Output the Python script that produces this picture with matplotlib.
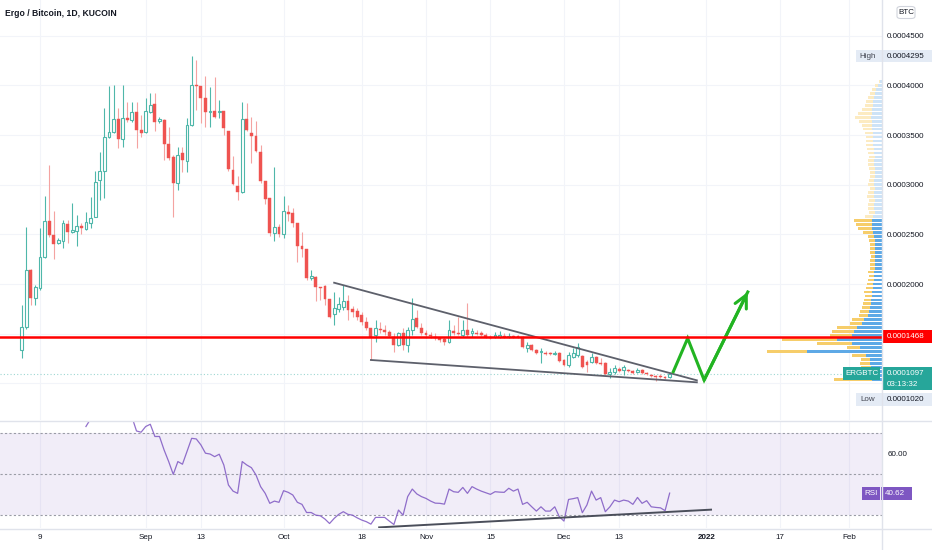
import numpy as np
import pandas as pd
import matplotlib
matplotlib.use("Agg")
import matplotlib.pyplot as plt
import matplotlib.dates as mdates
from matplotlib import font_manager
from matplotlib.patches import Rectangle, FancyBboxPatch
from matplotlib.lines import Line2D
from matplotlib.ticker import FuncFormatter

names = {f.name for f in font_manager.fontManager.ttflist}
if "Liberation Sans Narrow" in names:
    FONT, FS = "Liberation Sans Narrow", 6.9
else:
    FONT, FS = "Liberation Sans", 5.8
plt.rcParams["font.family"] = [FONT, "DejaVu Sans"]

# ---------------- data ----------------
TITLE = "Ergo / Bitcoin, 1D, KUCOIN"
first_day = "2021-08-05"
# daily OHLC in micro-BTC (1e-6 BTC)
opens = [133.6,156.7,214.1,185.9,196.0,227.2,263.5,249.4,241.3,243.3,
         260.4,252.4,253.4,258.4,255.4,261.4,267.5,304.7,313.8,348.0,
         353.1,366.2,346.0,367.2,365.2,373.2,355.1,353.1,373.2,381.3,
         364.2,365.2,341.0,327.9,301.7,331.9,323.9,360.1,400.4,399.4,
         387.3,373.2,374.2,373.2,374.2,354.1,314.8,298.7,292.7,366.2,
         352.1,349.0,332.9,303.7,286.6,251.4,257.4,250.4,272.5,271.5,
         261.4,238.3,235.3,206.0,207.1,197.0,198.0,184.9,169.8,174.8,
         176.8,182.9,174.8,172.8,168.8,161.7,155.7,148.7,154.7,153.7,
         151.7,146.6,138.6,150.7,138.6,153.7,165.8,155.7,150.7,148.7,
         146.6,145.6,144.6,141.6,152.7,150.7,148.7,153.7,150.7,150.7,
         150.7,148.7,146.6,146.6,146.6,147.6,146.6,147.6,147.6,146.6,
         135.6,138.6,133.6,131.5,130.5,130.5,129.5,130.5,123.5,118.5,
         126.5,128.5,127.5,121.5,121.5,126.5,120.5,120.5,109.4,111.4,
         114.4,113.4,113.4,112.4,111.4,113.4,110.4,108.4,107.4,107.4,
         106.4,106.4]
highs = [178.9,257.4,215.0,199.0,256.4,288.6,319.8,273.5,246.0,264.5,
         264.5,281.6,269.5,261.4,272.5,287.6,313.8,332.9,377.2,399.4,
         400.4,377.2,400.4,383.3,383.3,383.3,370.2,387.3,392.3,392.3,
         368.0,366.0,358.1,329.9,338.0,338.0,367.2,429.5,426.0,399.8,
         409.5,398.4,408.5,385.3,374.5,354.5,328.9,308.8,383.3,382.3,
         368.2,364.2,340.0,304.0,287.0,317.8,260.4,288.6,279.6,276.5,
         261.5,252.4,235.5,214.1,208.1,197.2,199.0,185.0,191.9,187.0,
         199.0,188.9,177.9,175.8,171.8,166.8,156.0,163.8,161.7,158.7,
         153.7,150.7,151.7,155.7,156.7,185.9,173.8,160.7,153.7,151.7,
         150.7,146.6,146.6,163.8,158.7,166.8,163.8,180.9,155.7,153.7,
         152.7,150.7,148.7,151.7,152.7,150.7,150.7,148.7,148.7,147.6,
         141.6,139.6,134.6,135.6,132.5,131.5,132.5,131.5,124.5,131.5,
         135.6,140.6,128.5,123.5,130.5,127.5,125.5,121.5,115.4,118.5,
         116.4,118.5,114.4,113.4,115.4,114.4,111.4,109.4,108.4,109.4,
         107.4,111.4]
lows = [125.5,155.0,178.9,178.9,194.0,226.0,247.3,225.2,240.3,236.3,
        241.3,251.5,238.3,250.4,254.4,256.4,267.0,284.6,286.6,347.0,
        352.0,337.0,338.0,363.1,363.1,337.0,348.0,352.0,372.0,354.1,
        362.1,324.9,324.9,267.5,294.7,312.8,312.8,359.0,375.2,362.1,
        358.1,358.1,367.2,367.2,350.1,313.8,299.7,284.6,292.0,354.5,
        321.9,333.0,301.7,280.6,248.3,243.3,247.3,246.3,263.5,257.4,
        222.2,227.2,204.0,204.0,182.9,183.9,178.9,166.0,158.7,171.8,
        173.8,163.8,166.8,163.8,158.7,153.7,123.5,141.6,150.7,148.7,
        146.6,131.5,137.6,133.6,131.5,148.7,155.7,148.7,145.6,145.6,
        143.6,141.6,138.6,140.6,148.7,148.7,146.6,146.6,146.6,148.7,
        147.6,145.6,144.6,145.6,145.6,145.6,145.6,145.6,145.6,135.6,
        131.5,132.5,129.5,120.5,128.5,128.5,128.5,121.5,117.4,116.4,
        125.5,126.5,115.8,111.4,120.5,119.5,118.5,108.4,105.4,109.4,
        111.4,108.4,111.4,109.4,110.4,109.4,108.4,106.4,102.0,105.4,
        104.3,105.4]
closes = [156.7,214.1,185.9,197.0,227.2,263.5,249.4,240.3,244.3,261.4,
          252.4,254.4,258.4,256.4,262.4,266.5,302.7,313.8,348.0,353.1,
          366.2,346.0,367.2,365.2,373.2,355.1,352.1,374.2,380.3,363.1,
          366.2,341.0,326.9,301.7,329.9,324.9,360.1,400.4,399.4,387.3,
          373.2,374.2,368.2,374.2,357.1,315.8,300.7,292.7,366.2,355.1,
          349.0,333.9,303.7,285.6,251.4,257.4,250.4,273.5,270.5,261.4,
          238.3,235.3,206.0,208.1,197.0,196.0,184.9,166.8,175.8,179.9,
          182.9,173.8,171.8,166.8,161.7,155.7,146.6,155.7,153.7,151.7,
          147.6,138.6,150.7,138.6,153.7,164.8,156.7,150.7,148.7,147.6,
          145.6,143.6,141.6,153.7,150.7,149.7,153.7,148.7,152.7,149.7,
          148.7,146.6,145.6,148.7,148.7,146.6,147.6,146.6,146.6,136.6,
          138.6,133.6,130.5,132.5,129.5,129.5,130.5,122.5,118.5,128.5,
          130.5,136.6,116.4,118.5,126.5,120.5,119.5,109.4,111.4,115.4,
          112.4,116.4,112.4,110.4,113.4,110.4,109.4,107.4,106.4,106.4,
          105.4,109.7]

rsi_first_day = "2021-08-19"
rsi = [73.3,77.0,80.0,81.0,79.0,81.0,80.0,81.0,78.0,79.0,
       78.0,71.1,70.5,73.3,74.4,68.4,68.4,61.8,56.1,49.8,
       56.1,54.8,61.1,67.5,67.2,64.3,60.2,59.8,58.5,59.7,
       54.4,44.6,41.6,40.5,56.1,54.4,53.1,49.5,43.8,40.5,
       35.6,36.7,36.1,41.8,41.0,39.7,36.1,35.1,31.1,31.1,
       29.8,29.5,27.9,25.7,28.2,30.2,31.5,30.2,29.8,28.5,
       27.4,26.6,25.4,28.7,28.7,28.7,26.9,25.2,32.3,29.8,
       38.9,42.6,40.2,38.9,38.0,36.7,35.7,35.6,35.2,42.6,
       41.3,41.0,43.4,40.5,43.8,42.6,41.6,40.8,40.0,41.3,
       41.1,41.0,43.0,41.6,42.6,35.1,36.1,33.9,31.8,33.9,
       31.8,31.8,33.9,29.0,26.9,37.5,37.9,38.4,31.0,34.8,
       41.6,37.2,38.4,31.5,33.9,37.2,36.4,37.2,36.7,35.1,
       38.5,35.6,36.9,33.9,33.6,33.4,32.0,40.62]
rsi_levels = [30, 50, 70]
rsi_ticks = [60]

resistance = 146.8      # 0.0001468
last_price = 109.7      # 0.0001097
high_value = 429.5      # 0.0004295
low_value = 102.0       # 0.0001020
countdown = "03:13:32"
symbol = "ERGBTC"
price_ticks = [100, 150, 200, 250, 300, 350, 400, 450]
hidden_price_ticks = [100, 150]

time_ticks = ["2021-08-09", "2021-09-01", "2021-09-13", "2021-10-01", "2021-10-18",
              "2021-11-01", "2021-11-15", "2021-12-01", "2021-12-13", "2022-01-01",
              "2022-01-17", "2022-02-01"]
time_labels = ["9", "Sep", "13", "Oct", "18", "Nov", "15", "Dec", "13", "2022", "17", "Feb"]

upper_line_t = ["2021-10-12 00:00", "2021-12-29 22:00"]
upper_line_p = [201.3, 103.0]
lower_line_t = ["2021-10-20 00:00", "2021-12-29 22:00"]
lower_line_p = [123.5, 101.0]
arrow_t = ["2021-12-24 19:00", "2021-12-27 22:00", "2021-12-31 12:00", "2022-01-10 00:00"]
arrow_p = [111.7, 145.3, 103.3, 192.0]
rsi_trend_t = ["2021-10-21 19:00", "2022-01-02 00:00"]
rsi_trend_v = [23.8, 32.5]

# visible-range volume profile rows (4 uBTC each, from 102 uBTC upward)
vp_bottom, vp_step, value_area_top = 102, 4, 268
vp_up = [10,8,10,11,12,12,16,75,22,30, 45,30,28,25,20,18,14,13,12,11,
         11,10,10,9,9,8,8,8,7,7, 7,7,7,7,7,7,8,9,10,10,
         10,9,7,8,8,7,8,8,7,8, 8,7,7,7,8,8,7,8,8,9,
         9,9,9,10,10,10,11,10,10,9, 9,8,7,6,4,2]
vp_down = [38,14,12,10,10,9,14,40,13,35, 55,22,22,20,12,12,9,9,8,8,
           7,7,8,7,6,6,5,6,5,5, 5,4,5,5,5,6,6,10,14,16,
           18,8,6,6,6,6,7,6,5,6, 5,5,5,6,6,6,6,6,7,7,
           7,7,8,9,10,13,16,14,10,8, 7,6,5,4,3,1]

# ---------------- style ----------------
U = 1e-6
W, H = 932, 550
TXT = "#131722"
GREEN = "#4fb7aa"
RED = "#ef5350"
RED_WICK = "#f4a3a1"
TEAL = "#26a69a"
PURPLE = "#7e57c2"
GRID = "#f2f4f9"
SEP = "#e0e3eb"

fig = plt.figure(figsize=(W / 100, H / 100), dpi=100)
fig.patch.set_facecolor("white")

def fx(px):
    return px / W

def fy(py):
    return 1 - py / H

ax = fig.add_axes([0, fy(420), fx(882), 420 / H])
axr = fig.add_axes([0, fy(528), fx(882), 107 / H])

base = mdates.date2num(pd.Timestamp("2021-08-01"))
xlim = (base - 0.7, base + 191.2)

# ---------------- main price pane ----------------
dates = mdates.date2num(pd.date_range(first_day, periods=len(opens), freq="D"))
O = np.array(opens) * U
Hh = np.array(highs) * U
L = np.array(lows) * U
C = np.array(closes) * U
up = C >= O

ax.set_xlim(*xlim)
ax.set_ylim(63.06 * U, 486.0 * U)
for s in ax.spines.values():
    s.set_visible(False)
ax.set_xticks(mdates.date2num(pd.to_datetime(time_ticks)))
ax.set_yticks(np.array(price_ticks) * U)
ax.grid(True, color=GRID, lw=0.8)
ax.set_axisbelow(True)
ax.yaxis.tick_right()
ax.yaxis.set_major_formatter(FuncFormatter(
    lambda v, _: "" if round(v / U) in hidden_price_ticks else f"{v:.7f}"))
ax.tick_params(axis="y", length=0, pad=3.6, labelsize=FS, labelcolor=TXT)
ax.tick_params(axis="x", length=0, labelbottom=False)

# current price line
ax.axhline(last_price * U, color=TEAL, lw=0.8, ls=(0, (1, 2)), alpha=0.45, zorder=1)

ax.vlines(dates[up], L[up], Hh[up], color=GREEN, lw=0.8, zorder=2)
ax.vlines(dates[~up], L[~up], Hh[~up], color=RED_WICK, lw=0.8, zorder=2)
bottom = np.minimum(O, C)
height = np.maximum(np.abs(C - O), 0.8 * U)
ax.bar(dates[up], height[up], bottom=bottom[up], width=0.62, facecolor="white",
       edgecolor=GREEN, lw=0.8, zorder=3)
ax.bar(dates[~up], height[~up], bottom=bottom[~up], width=0.62, facecolor=RED,
       edgecolor=RED, lw=0.3, zorder=3)

# triangle and projected path
ax.plot(mdates.date2num(pd.to_datetime(upper_line_t)), np.array(upper_line_p) * U,
        color="#5d606b", lw=1.3, zorder=4)
ax.plot(mdates.date2num(pd.to_datetime(lower_line_t)), np.array(lower_line_p) * U,
        color="#5d606b", lw=1.3, zorder=4)
at = mdates.date2num(pd.to_datetime(arrow_t))
ap = np.array(arrow_p) * U
ax.plot(at, ap, color="#22b422", lw=2.2, solid_joinstyle="miter", zorder=5)
ax.annotate("", xy=(at[-1], ap[-1]), xytext=(at[-2], ap[-2]),
            arrowprops=dict(arrowstyle="->,head_length=0.9,head_width=0.45",
                            color="#22b422", lw=2.2, shrinkA=0, shrinkB=0), zorder=5)

# volume profile (x in pixels from the price scale, pointing left)
axv = ax.twiny()
axv.set_xlim(882, 0)
axv.set_axis_off()
rows = vp_bottom + vp_step * (np.arange(len(vp_up)) + 0.5)
vu = np.array(vp_up)
vd = np.array(vp_down)
inva = rows < value_area_top
axv.barh(rows[inva] * U, vu[inva], height=vp_step * 0.7 * U, left=0, color="#5ea9e6", lw=0)
axv.barh(rows[inva] * U, vd[inva], height=vp_step * 0.7 * U, left=vu[inva], color="#f6cd6a", lw=0)
axv.barh(rows[~inva] * U, vu[~inva], height=vp_step * 0.7 * U, left=0, color="#cde3f7", lw=0)
axv.barh(rows[~inva] * U, vd[~inva], height=vp_step * 0.7 * U, left=vu[~inva], color="#fcebc2", lw=0)
axv.axhline(resistance * U, color="#ff0000", lw=1.8, zorder=6)

# ---------------- RSI pane ----------------
axr.set_xlim(*xlim)
axr.set_ylim(23.5, 76.0)
for s in axr.spines.values():
    s.set_visible(False)
axr.axhspan(rsi_levels[0], rsi_levels[-1], color=PURPLE, alpha=0.1, lw=0)
for lvl in rsi_levels:
    axr.axhline(lvl, color="#9a9ca6", lw=0.8, ls=(0, (2, 2)))
rsi_dates = mdates.date2num(pd.date_range(rsi_first_day, periods=len(rsi), freq="D"))
axr.plot(rsi_dates, rsi, color=PURPLE, lw=0.9, alpha=0.85)
axr.plot(mdates.date2num(pd.to_datetime(rsi_trend_t)), rsi_trend_v, color="#4a4e5a", lw=1.4)
axr.set_xticks(mdates.date2num(pd.to_datetime(time_ticks)))
axr.set_xticklabels(time_labels)
axr.grid(True, axis="x", color=GRID, lw=0.8)
axr.set_axisbelow(True)
axr.yaxis.tick_right()
axr.set_yticks(rsi_ticks)
axr.yaxis.set_major_formatter(FuncFormatter(lambda v, _: f"{v:.2f}"))
axr.tick_params(axis="y", length=0, pad=4.3, labelsize=FS, labelcolor=TXT)
axr.tick_params(axis="x", length=0, pad=4.6, labelsize=FS, labelcolor=TXT)
for lab in axr.get_xticklabels():
    if lab.get_text() == "2022":
        lab.set_fontweight("bold")

# ---------------- frame lines ----------------
fig.add_artist(Line2D([0, 1], [fy(420.5)] * 2, color=SEP, lw=1))
fig.add_artist(Line2D([0, 1], [fy(528.5)] * 2, color=SEP, lw=1))
fig.add_artist(Line2D([fx(882)] * 2, [fy(550), 1], color=SEP, lw=1))

# ---------------- labels ----------------
def fig_y(axes, val):
    disp = axes.transData.transform((axes.get_xlim()[0], val))
    return fig.transFigure.inverted().transform(disp)[1]

def box(x0, x1, yc, h_px, fc, dy_px=0):
    fig.add_artist(Rectangle((fx(x0), yc - (h_px / 2 + dy_px) / H), (x1 - x0) / W, h_px / H,
                             transform=fig.transFigure, fc=fc, ec="none", lw=0))

def txt(x, yc, s, color, ha="left", weight="normal", dy_px=0):
    fig.text(fx(x), yc - dy_px / H, s, color=color, ha=ha, va="center",
             fontsize=FS, fontweight=weight)

fig.text(fx(5), fy(13), TITLE, color=TXT, fontsize=FS + 0.4, fontweight="bold",
         ha="left", va="center")

# currency box
fig.add_artist(FancyBboxPatch((fx(897), fy(18.5)), 18 / W, 12 / H,
                              boxstyle="round,pad=0,rounding_size=0.004",
                              transform=fig.transFigure, fc="white", ec="#d1d4dc", lw=0.8))
txt(906, fy(12.5), "BTC", TXT, ha="center")

# High
yh = fig_y(ax, high_value * U)
box(856, 932, yh, 12.5, "#e4ebf5")
txt(868, yh, "High", "#434651", ha="center")
txt(887, yh, f"{high_value * U:.7f}", TXT)

# resistance
yr = fig_y(ax, resistance * U)
box(882, 932, yr, 13, "#ff0000")
txt(887, yr, f"{resistance * U:.7f}", "white")

# last price
yl = fig_y(ax, last_price * U)
box(843, 880, yl, 13, TEAL)
txt(861.5, yl, symbol, "white", ha="center")
box(882, 932, yl, 23, TEAL, dy_px=5)
txt(887, yl, f"{last_price * U:.7f}", "white")
txt(887, yl, countdown, "white", dy_px=10.5)

# Low (shifted below to avoid overlap)
ylo = fig_y(ax, low_value * U) - 18 / H
box(856, 932, ylo, 12.5, "#e4ebf5")
txt(868, ylo, "Low", "#434651", ha="center")
txt(887, ylo, f"{low_value * U:.7f}", TXT)

# RSI value
yrsi = fig_y(axr, rsi[-1])
box(862, 880, yrsi, 13, "#7e57c2")
txt(871, yrsi, "RSI", "white", ha="center")
box(881, 912, yrsi, 13, "#7e57c2")
txt(885, yrsi, f"{rsi[-1]:.2f}", "white")

fig.savefig("out.png", dpi=100, facecolor="white")
